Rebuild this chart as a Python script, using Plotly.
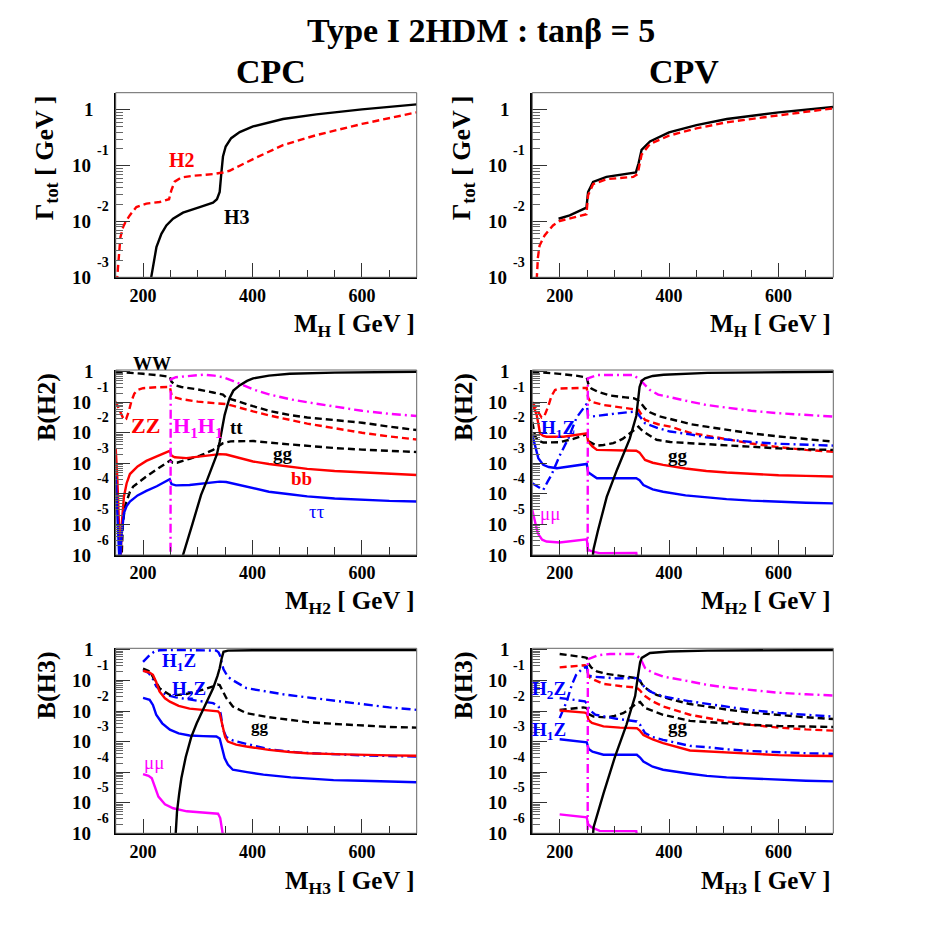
import numpy as np
import plotly.graph_objects as go

FONT = "Liberation Serif, Times New Roman, serif"
BLACK, RED, BLUE, MAG = "#000000", "#ff0000", "#0000ff", "#ff00ff"
DASH = "7px,4px"
DASHDOT = "9px,4px,2px,4px"

# ── data: mass (GeV) and log10 of total width [GeV] / branching ratio ──
# top row : total widths
cpc_gam_h3_m = [214, 219.5, 224.4, 233.5, 242.6, 254.8, 273, 303.5, 327.8, 335, 340, 343, 346, 351, 361, 376.6, 401, 455.7, 516.6, 600, 650, 700]
cpc_gam_h3 = [-3.05, -2.70, -2.46, -2.22, -2.07, -1.95, -1.84, -1.74, -1.66, -1.60, -1.47, -1.135, -0.835, -0.655, -0.505, -0.396, -0.294, -0.162, -0.078, 0.01, 0.055, 0.10]
cpc_gam_h2_m = [152, 155.6, 158.6, 163.5, 168.3, 175.6, 187.8, 206, 230.4, 247.5, 251.7, 257.8, 270, 291.3, 327.8, 346, 358, 376.6, 401, 455.7, 516.6, 600, 650, 700]
cpc_gam_h2 = [-3.1, -2.58, -2.28, -2.10, -2.0, -1.89, -1.74, -1.68, -1.65, -1.60, -1.44, -1.285, -1.21, -1.18, -1.15, -1.12, -1.09, -1.0, -0.88, -0.63, -0.45, -0.25, -0.14, -0.042]

cpv_gam_h2_m = [158, 160.3, 163.3, 172.5, 187.8, 200, 224.4, 248.9, 251.9, 261, 285.5, 334.4, 342.4, 349.7, 365, 399.8, 450, 505.5, 600.2, 700]
cpv_gam_h2 = [-3.05, -2.64, -2.43, -2.25, -2.07, -1.99, -1.93, -1.87, -1.53, -1.33, -1.24, -1.2, -1.15, -0.80, -0.61, -0.46, -0.33, -0.22, -0.096, 0.03]
cpv_gam_h3_m = [198, 218.3, 248.9, 251.9, 261, 285.5, 339.3, 344.2, 349.7, 365, 399.8, 450, 505.5, 600.2, 700]
cpv_gam_h3 = [-1.95, -1.89, -1.75, -1.47, -1.29, -1.2, -1.12, -0.955, -0.715, -0.565, -0.40, -0.27, -0.162, -0.042, 0.054]

# middle row : B(H2), CPC
cpc_h2_ww_m = [150, 170, 200, 230, 249, 252, 260, 270, 300, 328, 346, 352, 365, 380, 401, 430, 468, 500, 550, 600, 650, 700]
cpc_h2_ww = [0.0, -0.02, -0.07, -0.12, -0.17, -0.33, -0.45, -0.5, -0.58, -0.68, -0.75, -0.85, -0.93, -1.02, -1.13, -1.28, -1.42, -1.5, -1.59, -1.67, -1.8, -1.91]
cpc_h2_zz_m = [150, 156, 160, 165, 169, 174, 179, 184, 190, 200, 225, 249, 252, 258, 270, 300, 330, 352, 365, 380, 401, 430, 468, 500, 550, 600, 650, 700]
cpc_h2_zz = [-0.98, -1.2, -1.38, -1.58, -1.55, -1.3, -0.95, -0.72, -0.6, -0.54, -0.51, -0.5, -0.76, -0.84, -0.9, -0.98, -1.03, -1.06, -1.12, -1.2, -1.3, -1.43, -1.58, -1.7, -1.85, -2.0, -2.12, -2.22]
cpc_h2_h1h1_m = [250, 250.5, 260, 290, 310, 330, 346, 364, 380, 401, 430, 468, 500, 550, 600, 650, 700]
cpc_h2_h1h1 = [-9, -0.25, -0.18, -0.12, -0.1, -0.13, -0.18, -0.3, -0.42, -0.58, -0.74, -0.9, -1.0, -1.15, -1.28, -1.38, -1.45]
cpc_h2_tt_m = [268, 273, 290, 306, 318, 328, 335, 340, 345, 349, 354, 358, 365, 377, 390, 401, 430, 468, 550, 700]
cpc_h2_tt = [-6.4, -6.0, -5.0, -4.03, -3.5, -3.05, -2.7, -2.29, -1.8, -1.42, -1.1, -0.87, -0.62, -0.44, -0.3, -0.22, -0.13, -0.07, -0.03, 0.0]
cpc_h2_gg_m = [159, 163, 167, 176, 182, 200, 206, 225, 246, 250, 254, 262, 285, 304, 328, 340, 346, 360, 377, 401, 468, 500, 550, 600, 650, 700]
cpc_h2_gg = [-7.0, -5.0, -4.4, -3.93, -3.76, -3.5, -3.43, -3.2, -2.94, -2.9, -2.98, -2.98, -2.85, -2.75, -2.56, -2.42, -2.34, -2.28, -2.27, -2.27, -2.38, -2.43, -2.5, -2.55, -2.6, -2.63]
cpc_h2_bb_m = [150, 153, 156, 158.6, 161, 165, 170, 176, 190, 206, 225, 248.7, 252, 258, 279, 300, 320, 340, 352, 364, 380, 401, 430, 468, 500, 550, 600, 650, 700]
cpc_h2_bb = [-2.51, -3.5, -5.0, -6.5, -5.0, -4.09, -3.65, -3.35, -3.1, -2.92, -2.77, -2.59, -2.75, -2.8, -2.83, -2.79, -2.74, -2.7, -2.71, -2.77, -2.85, -2.94, -3.02, -3.1, -3.18, -3.25, -3.3, -3.35, -3.38]
cpc_h2_tau_m = [150, 153, 156, 157.5, 160, 165, 170, 176, 190, 206, 225, 248.7, 252, 260, 285, 310, 340, 352, 364, 380, 401, 430, 468, 500, 550, 600, 650, 700]
cpc_h2_tau = [-3.43, -4.5, -5.8, -6.5, -5.5, -4.63, -4.4, -4.25, -4.05, -3.9, -3.75, -3.52, -3.68, -3.72, -3.71, -3.66, -3.6, -3.61, -3.66, -3.74, -3.83, -3.93, -4.01, -4.08, -4.15, -4.2, -4.23, -4.25]

# middle row : B(H2), CPV
cpv_h2_ww_m = [150, 175, 200, 230, 249.5, 252, 258, 270, 292, 320, 335, 342, 347, 356, 365, 380, 408, 440, 468, 505, 550, 600, 650, 700]
cpv_h2_ww = [0.0, -0.03, -0.07, -0.13, -0.19, -0.38, -0.55, -0.66, -0.78, -0.84, -0.87, -0.92, -1.0, -1.2, -1.33, -1.45, -1.58, -1.72, -1.8, -1.91, -2.02, -2.12, -2.21, -2.29]
cpv_h2_zz_m = [150, 155, 161, 167, 172, 179, 185, 191.5, 200, 225, 249.5, 252, 256, 280, 300, 328, 344, 350, 356, 380, 402, 438, 468, 505, 550, 600, 650, 700]
cpv_h2_zz = [-1.0, -1.15, -1.35, -1.5, -1.45, -1.14, -0.8, -0.6, -0.55, -0.53, -0.53, -0.85, -0.98, -1.09, -1.14, -1.2, -1.25, -1.42, -1.58, -1.72, -1.8, -2.0, -2.1, -2.22, -2.35, -2.47, -2.56, -2.62]
cpv_h2_h1z_m = [150, 160, 170, 178, 185, 200, 216, 231, 249.5, 252, 258, 298, 328, 340, 346, 356, 380, 402, 438, 468, 505, 550, 600, 650, 700]
cpv_h2_h1z = [-3.65, -3.75, -3.87, -3.6, -3.38, -2.75, -2.18, -1.5, -1.05, -1.45, -1.47, -1.38, -1.31, -1.3, -1.45, -1.69, -1.85, -1.96, -2.05, -2.15, -2.22, -2.3, -2.36, -2.4, -2.42]
cpv_h2_gg_m = [150, 155, 160, 170, 200, 225, 246, 249.5, 253, 267, 280, 298, 315, 328, 340, 344, 349, 353, 377, 402, 438, 468, 505, 550, 600, 650, 700]
cpv_h2_gg = [-1.65, -2.1, -2.25, -2.32, -2.31, -2.2, -2.07, -2.05, -2.28, -2.42, -2.4, -2.34, -2.2, -2.02, -1.85, -1.8, -1.9, -1.96, -2.23, -2.3, -2.34, -2.37, -2.42, -2.47, -2.51, -2.54, -2.56]
cpv_h2_h1h1_m = [251, 251.5, 268, 300, 335, 347, 356, 365, 380, 408, 438, 468, 505, 550, 600, 650, 700]
cpv_h2_h1h1 = [-9, -0.22, -0.11, -0.1, -0.11, -0.27, -0.45, -0.6, -0.75, -0.87, -0.98, -1.09, -1.18, -1.28, -1.36, -1.42, -1.47]
cpv_h2_tt_m = [259, 262, 270, 286, 305, 328, 340, 343, 346, 350, 356, 370, 390, 470, 550, 700]
cpv_h2_tt = [-6.3, -5.8, -5.2, -4.1, -3.2, -2.2, -1.45, -1.0, -0.5, -0.3, -0.22, -0.14, -0.1, -0.04, -0.02, 0.0]
cpv_h2_bb_m = [150, 154, 158, 161, 164, 170, 176, 207, 230, 249.5, 252, 260, 268, 300, 340, 346, 356, 370, 389, 430, 468, 505, 550, 600, 650, 700]
cpv_h2_bb = [-1.03, -1.2, -1.42, -1.7, -2.02, -2.1, -2.13, -2.13, -2.08, -2.02, -2.29, -2.45, -2.56, -2.58, -2.59, -2.65, -2.89, -2.98, -3.05, -3.17, -3.25, -3.3, -3.35, -3.39, -3.41, -3.43]
cpv_h2_tau_m = [150, 155, 161, 170, 180, 195, 220, 249.5, 252, 260, 268, 300, 340, 346, 353, 370, 389, 430, 468, 505, 550, 600, 650, 700]
cpv_h2_tau = [-2.07, -2.4, -2.83, -3.05, -3.12, -3.16, -3.1, -3.02, -3.29, -3.4, -3.49, -3.49, -3.49, -3.55, -3.71, -3.85, -3.93, -4.05, -4.12, -4.17, -4.22, -4.26, -4.29, -4.31]
cpv_h2_mumu_m = [150, 155, 160, 168, 176, 200, 225, 249.5, 252, 262, 273, 340, 342]
cpv_h2_mumu = [-4.53, -4.9, -5.29, -5.5, -5.56, -5.59, -5.55, -5.49, -5.83, -5.9, -5.94, -5.93, -6.2]

# bottom row : B(H3), CPC
cpc_h3_h1z_m = [200, 206, 212, 220, 230, 260, 300, 334, 338, 341, 344, 347, 355, 365, 389, 430, 456, 500, 547, 600, 650, 700]
cpc_h3_h1z = [-0.39, -0.28, -0.17, -0.06, -0.01, 0.0, 0.0, -0.02, -0.08, -0.2, -0.45, -0.63, -0.88, -1.0, -1.25, -1.37, -1.45, -1.55, -1.65, -1.78, -1.88, -1.96]
cpc_h3_h2z_m = [200, 210, 218, 224, 235, 242, 260, 285, 310, 328, 338, 342, 346, 352, 365, 389, 401, 430, 487, 550, 600, 650, 700]
cpc_h3_h2z = [-0.65, -0.75, -0.95, -1.19, -1.38, -1.47, -1.55, -1.62, -1.68, -1.74, -1.85, -2.1, -2.6, -2.85, -2.97, -3.08, -3.14, -3.25, -3.36, -3.42, -3.45, -3.47, -3.49]
cpc_h3_gg_m = [200, 212, 222, 230, 249, 265, 279, 300, 310, 328, 336, 340, 346, 352, 364, 389, 430, 468, 500, 550, 600, 650, 700]
cpc_h3_gg = [-0.61, -0.7, -1.0, -1.25, -1.47, -1.47, -1.44, -1.35, -1.3, -1.19, -1.13, -1.15, -1.35, -1.57, -1.85, -2.07, -2.2, -2.29, -2.36, -2.42, -2.48, -2.52, -2.54]
cpc_h3_bb_m = [200, 212, 218, 224, 230, 240, 249, 265, 285, 310, 328, 337, 340, 343, 346, 350, 355, 370, 389, 430, 468, 500, 550, 600, 650, 700]
cpc_h3_bb = [-0.68, -0.74, -0.81, -1.05, -1.36, -1.58, -1.69, -1.83, -1.92, -1.96, -1.98, -2.01, -2.07, -2.3, -2.56, -2.85, -3.0, -3.1, -3.16, -3.27, -3.34, -3.38, -3.41, -3.44, -3.45, -3.46]
cpc_h3_tau_m = [200, 212, 218, 224, 235, 249, 265, 285, 310, 334, 340, 343, 346, 349, 355, 364, 390, 420, 470, 548, 600, 650, 700]
cpc_h3_tau = [-1.57, -1.63, -1.8, -2.12, -2.4, -2.61, -2.73, -2.8, -2.82, -2.83, -2.9, -3.1, -3.35, -3.54, -3.75, -3.92, -4.0, -4.08, -4.17, -4.26, -4.28, -4.31, -4.33]
cpc_h3_mumu_m = [200, 210, 216, 222, 228, 240, 255, 280, 304, 337, 341, 344, 348]
cpc_h3_mumu = [-4.06, -4.12, -4.2, -4.5, -4.8, -5.05, -5.18, -5.28, -5.32, -5.36, -5.5, -5.78, -6.3]
cpc_h3_tt_m = [258, 262, 266, 270, 278, 288, 298, 309, 318, 328, 336, 340, 344, 347, 355, 400, 700]
cpc_h3_tt = [-6.5, -5.3, -4.7, -4.2, -3.5, -2.85, -2.4, -1.98, -1.6, -1.25, -0.85, -0.6, -0.25, -0.06, -0.02, -0.01, 0.0]

# bottom row : B(H3), CPV
cpv_h3_ww_m = [200, 225, 246, 249.5, 252, 258, 268, 285, 304, 320, 340, 347, 353, 365, 377, 400, 420, 438, 469, 505, 550, 600, 650, 700]
cpv_h3_ww = [-0.13, -0.18, -0.24, -0.26, -0.43, -0.58, -0.7, -0.78, -0.83, -0.87, -0.92, -1.02, -1.19, -1.35, -1.47, -1.6, -1.69, -1.77, -1.85, -1.95, -2.05, -2.13, -2.2, -2.26]
cpv_h3_zz_m = [200, 225, 246, 249.5, 252, 256, 280, 310, 341, 347, 353, 370, 389, 438, 469, 505, 550, 600, 650, 700]
cpv_h3_zz = [-0.57, -0.54, -0.5, -0.55, -0.8, -0.92, -1.11, -1.18, -1.23, -1.33, -1.47, -1.68, -1.85, -2.12, -2.22, -2.34, -2.45, -2.54, -2.6, -2.64]
cpv_h3_h1h1_m = [251, 251.5, 258, 270, 292, 335, 347, 356, 370, 389, 438, 469, 505, 550, 600, 650, 700]
cpv_h3_h1h1 = [-9, -0.3, -0.26, -0.17, -0.13, -0.13, -0.26, -0.59, -0.75, -0.87, -1.03, -1.14, -1.23, -1.32, -1.4, -1.45, -1.49]
cpv_h3_h2z_m = [200, 206, 213, 222, 230, 243, 249.5, 252, 258, 304, 341, 347, 356, 370, 389, 438, 469, 505, 550, 600, 650, 700]
cpv_h3_h2z = [-2.23, -1.95, -1.68, -1.15, -0.82, -0.58, -0.55, -0.8, -0.87, -0.93, -0.92, -1.0, -1.25, -1.4, -1.52, -1.68, -1.76, -1.86, -1.97, -2.06, -2.13, -2.18]
cpv_h3_h1z_m = [200, 225, 246, 249.5, 254, 265, 304, 341, 347, 356, 370, 389, 438, 469, 505, 550, 600, 650, 700]
cpv_h3_h1z = [-1.57, -1.62, -1.68, -1.75, -1.95, -2.12, -2.25, -2.34, -2.45, -2.72, -2.85, -2.94, -3.14, -3.18, -3.25, -3.31, -3.35, -3.38, -3.4]
cpv_h3_gg_m = [200, 225, 243, 249.5, 253, 262, 286, 300, 316, 330, 341, 347, 352, 356, 389, 438, 469, 505, 550, 600, 650, 700]
cpv_h3_gg = [-1.96, -1.92, -1.88, -1.9, -2.1, -2.18, -2.21, -2.16, -2.07, -1.9, -1.74, -1.7, -1.82, -1.9, -2.12, -2.32, -2.36, -2.41, -2.45, -2.49, -2.51, -2.52]
cpv_h3_bb_m = [200, 225, 246, 249.5, 253, 259, 280, 310, 341, 347, 353, 370, 389, 438, 469, 505, 550, 600, 650, 700]
cpv_h3_bb = [-1.98, -2.01, -2.05, -2.08, -2.3, -2.39, -2.5, -2.54, -2.56, -2.65, -2.78, -2.93, -3.05, -3.29, -3.32, -3.37, -3.41, -3.44, -3.46, -3.47]
cpv_h3_tau_m = [200, 225, 246, 249.5, 253, 260, 280, 310, 341, 347, 353, 370, 389, 438, 469, 505, 550, 600, 650, 700]
cpv_h3_tau = [-2.92, -2.96, -3.0, -3.02, -3.24, -3.33, -3.43, -3.43, -3.43, -3.52, -3.65, -3.82, -3.92, -4.05, -4.12, -4.17, -4.21, -4.25, -4.28, -4.3]
cpv_h3_mumu_m = [200, 225, 249.5, 252, 258, 273, 340, 343]
cpv_h3_mumu = [-5.38, -5.43, -5.48, -5.7, -5.8, -5.92, -5.93, -6.3]
cpv_h3_tt_m = [259, 262, 280, 301, 322, 338, 341, 344, 347, 350, 365, 400, 470, 700]
cpv_h3_tt = [-6.5, -5.8, -4.7, -3.5, -2.45, -1.5, -1.1, -0.7, -0.4, -0.26, -0.1, -0.05, -0.02, 0.0]

# ── curves per panel: (mass, log10 value, colour, dash) ──
panels = {
    1: [(cpc_gam_h3_m, cpc_gam_h3, BLACK, "solid"), (cpc_gam_h2_m, cpc_gam_h2, RED, DASH)],
    2: [(cpv_gam_h3_m, cpv_gam_h3, BLACK, "solid"), (cpv_gam_h2_m, cpv_gam_h2, RED, DASH)],
    3: [(cpc_h2_ww_m, cpc_h2_ww, BLACK, DASH), (cpc_h2_zz_m, cpc_h2_zz, RED, DASH),
        (cpc_h2_gg_m, cpc_h2_gg, BLACK, DASH), (cpc_h2_bb_m, cpc_h2_bb, RED, "solid"),
        (cpc_h2_tau_m, cpc_h2_tau, BLUE, "solid"), (cpc_h2_h1h1_m, cpc_h2_h1h1, MAG, DASHDOT),
        (cpc_h2_tt_m, cpc_h2_tt, BLACK, "solid")],
    4: [(cpv_h2_ww_m, cpv_h2_ww, BLACK, DASH), (cpv_h2_zz_m, cpv_h2_zz, RED, DASH),
        (cpv_h2_gg_m, cpv_h2_gg, BLACK, DASH), (cpv_h2_h1z_m, cpv_h2_h1z, BLUE, DASHDOT),
        (cpv_h2_bb_m, cpv_h2_bb, RED, "solid"), (cpv_h2_tau_m, cpv_h2_tau, BLUE, "solid"),
        (cpv_h2_mumu_m, cpv_h2_mumu, MAG, "solid"), (cpv_h2_h1h1_m, cpv_h2_h1h1, MAG, DASHDOT),
        (cpv_h2_tt_m, cpv_h2_tt, BLACK, "solid")],
    5: [(cpc_h3_h1z_m, cpc_h3_h1z, BLUE, DASHDOT), (cpc_h3_h2z_m, cpc_h3_h2z, BLUE, DASHDOT),
        (cpc_h3_gg_m, cpc_h3_gg, BLACK, DASH), (cpc_h3_bb_m, cpc_h3_bb, RED, "solid"),
        (cpc_h3_tau_m, cpc_h3_tau, BLUE, "solid"), (cpc_h3_mumu_m, cpc_h3_mumu, MAG, "solid"),
        (cpc_h3_tt_m, cpc_h3_tt, BLACK, "solid")],
    6: [(cpv_h3_ww_m, cpv_h3_ww, BLACK, DASH), (cpv_h3_zz_m, cpv_h3_zz, RED, DASH),
        (cpv_h3_gg_m, cpv_h3_gg, BLACK, DASH), (cpv_h3_h2z_m, cpv_h3_h2z, BLUE, DASHDOT),
        (cpv_h3_h1z_m, cpv_h3_h1z, BLUE, DASHDOT), (cpv_h3_bb_m, cpv_h3_bb, RED, "solid"),
        (cpv_h3_tau_m, cpv_h3_tau, BLUE, "solid"), (cpv_h3_mumu_m, cpv_h3_mumu, MAG, "solid"),
        (cpv_h3_h1h1_m, cpv_h3_h1h1, MAG, DASHDOT), (cpv_h3_tt_m, cpv_h3_tt, BLACK, "solid")],
}

fig = go.Figure()
for k, curves in panels.items():
    sfx = "" if k == 1 else str(k)
    for m, v, col, dash in curves:
        fig.add_trace(go.Scatter(
            x=m, y=10.0 ** np.array(v), mode="lines",
            line=dict(color=col, width=2.4, dash=dash),
            xaxis="x" + sfx, yaxis="y" + sfx, showlegend=False, hoverinfo="skip",
        ))

# ── geometry (page pixels; the page body adds an 8 px offset) ──
W = 926.0
OFF = 8.0
AX_L = {0: 115.7, 1: 532.3}          # left edge of each column
AX_R = {0: 416.7, 1: 833.3}
AX_T = {0: 92.7, 1: 370.0, 2: 648.3}  # top / bottom of each row
AX_B = {0: 277.3, 1: 555.0, 2: 833.3}


def fx(x):
    return (x - OFF) / W


def fy(y):
    return 1 - (y - OFF) / W


tickfont = dict(family=FONT, size=18, color="black", weight="bold")
ann = []


def text(s, x, y, size, color="black", weight="bold", xanchor="center", yanchor="middle", angle=0):
    ann.append(dict(text=s, x=fx(x), y=fy(y), xref="paper", yref="paper", showarrow=False,
                    xanchor=xanchor, yanchor=yanchor, textangle=angle,
                    font=dict(family=FONT, size=size, color=color, weight=weight)))


layout_axes = {}
for k in range(1, 7):
    row, col = (k - 1) // 2, (k - 1) % 2
    sfx = "" if k == 1 else str(k)
    lo, top = (-3, 0.31) if row == 0 else (-6, 0.055)
    exps = list(range(lo, 1))
    minor = [d * 10.0 ** e for e in exps for d in range(2, 10) if d * 10.0 ** e < 10 ** top]
    layout_axes["xaxis" + sfx] = dict(
        domain=[fx(AX_L[col]), fx(AX_R[col])], anchor="y" + sfx, range=[150, 700],
        tickvals=[200, 400, 600], ticks="inside", ticklen=15, tickwidth=1, tickcolor="#333",
        showline=True, linecolor="black", linewidth=1.5, showgrid=False, zeroline=False,
        tickfont=tickfont, ticklabelstandoff=1,
        minor=dict(tickvals=[250, 300, 350, 450, 500, 550, 650], ticks="inside",
                   ticklen=8, tickwidth=1, tickcolor="#333", showgrid=False),
    )
    layout_axes["yaxis" + sfx] = dict(
        domain=[fy(AX_B[row]), fy(AX_T[row])], anchor="x" + sfx, type="log", range=[lo, top],
        tickvals=[10.0 ** e for e in exps], showticklabels=False,
        ticks="inside", ticklen=15, tickwidth=1, tickcolor="#333",
        showline=True, linecolor="black", linewidth=1.5, showgrid=False, zeroline=False,
        minor=dict(tickvals=minor, ticks="inside", ticklen=8, tickwidth=1,
                   tickcolor="#666", showgrid=False),
    )
    fig.add_shape(type="rect", xref="x%s domain" % sfx, yref="y%s domain" % sfx,
                  x0=0, x1=1, y0=0, y1=1, line=dict(color="#666", width=1), layer="above")
    # ROOT style log labels: big "10" with a raised exponent
    ax = AX_L[col]
    for e in exps:
        if e == 0:
            ann.append(dict(text="1", x=fx(ax - 20), y=0, xref="paper", yref="y" + sfx,
                            showarrow=False, xanchor="right", yanchor="middle",
                            font=dict(family=FONT, size=19, color="black", weight="bold")))
        else:
            ann.append(dict(text="10", x=fx(ax - 23), y=e, xref="paper", yref="y" + sfx,
                            showarrow=False, xanchor="right", yanchor="middle",
                            font=dict(family=FONT, size=19, color="black", weight="bold")))
            ann.append(dict(text="-%d" % (-e), x=fx(ax - 5), y=e, yshift=15, xref="paper",
                            yref="y" + sfx, showarrow=False, xanchor="right", yanchor="middle",
                            font=dict(family=FONT, size=14, color="black", weight="bold")))

fig.update_layout(**layout_axes)

# titles
text("Type I 2HDM : tan\u03b2 = 5", 481, 30, 34)
text("CPC", 271, 72, 34)
text("CPV", 684, 72, 34)

# axis titles
ytitles = ["\u0393<sub>tot</sub> [ GeV ]", "B(H2)", "B(H3)"]
xtitles = ["M<sub>H</sub> [ GeV ]", "M<sub>H2</sub> [ GeV ]", "M<sub>H3</sub> [ GeV ]"]
xt_y = [325, 602, 882]
for r in range(3):
    for cx, right in ((46, 417), (463, 833)):
        text(ytitles[r], cx, AX_T[r] + 1, 26, xanchor="center", yanchor="top", angle=-90)
        text(xtitles[r], right, xt_y[r], 25, xanchor="right")

# curve labels
labels = [
    ("H2", 181.7, 160, RED, 20, "bold"), ("H3", 237.3, 216.7, BLACK, 20, "bold"),
    ("WW", 151.7, 363.3, BLACK, 19, "bold"), ("ZZ", 145, 425, RED, 22, "bold"),
    ("H<sub>1</sub>H<sub>1</sub>", 198, 427, MAG, 22, "bold"), ("tt", 236.7, 427.3, BLACK, 19, "bold"),
    ("gg", 283.3, 453.3, BLACK, 19, "bold"), ("bb", 301.7, 478.3, RED, 19, "bold"),
    ("\u03c4\u03c4", 316.7, 511.7, BLUE, 19, "normal"),
    ("H<sub>1</sub>Z", 558.3, 429, BLUE, 19, "bold"), ("\u03bc\u03bc", 550, 513.3, MAG, 19, "normal"),
    ("gg", 678.3, 455, BLACK, 19, "bold"),
    ("H<sub>1</sub>Z", 179, 662, BLUE, 19, "bold"), ("H<sub>2</sub>Z", 189.3, 690, BLUE, 19, "bold"),
    ("gg", 260, 726, BLACK, 17, "bold"), ("\u03bc\u03bc", 154, 762.7, MAG, 19, "normal"),
    ("H<sub>2</sub>Z", 549.3, 690, BLUE, 19, "bold"), ("H<sub>1</sub>Z", 549.3, 731, BLUE, 19, "bold"),
    ("gg", 678.3, 726.7, BLACK, 19, "bold"),
]
for s, x, y, c, size, w in labels:
    text(s, x, y, size, color=c, weight=w)

fig.update_layout(
    width=926, height=926, margin=dict(l=0, r=0, t=0, b=0),
    paper_bgcolor="white", plot_bgcolor="white",
    font=dict(family=FONT, color="black"),
    annotations=ann,
)

fig.write_html("out.html")
